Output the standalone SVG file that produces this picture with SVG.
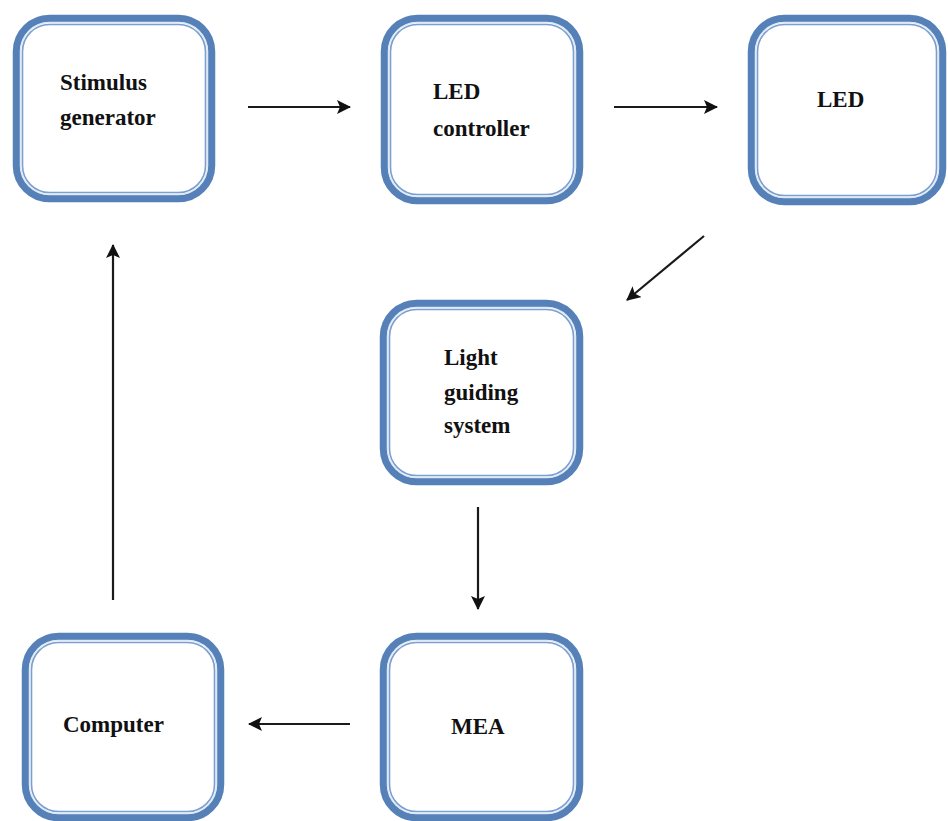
<svg xmlns="http://www.w3.org/2000/svg" width="948" height="821" viewBox="0 0 948 821">
<style>
.band{fill:#ffffff;stroke:#5580b8;stroke-width:7.5}
.gap{fill:none;stroke:#dfe9f5;stroke-width:1.5}
.inner{fill:none;stroke:#7a9fd0;stroke-width:1.6}
.lbl{font-family:"Liberation Serif","Times New Roman",serif;font-weight:bold;font-size:23px;fill:#111111}
.conn{stroke:#1a1a1a;stroke-width:2.2;fill:none}
</style>
<defs>
<marker id="ah" viewBox="0 0 14 14" refX="13" refY="7" markerWidth="14" markerHeight="14" markerUnits="userSpaceOnUse" orient="auto">
<path d="M0,0 L14,7 L0,14 L3,7 Z" fill="#111111"/>
</marker>
</defs>
<rect width="948" height="821" fill="#ffffff"/>
<g id="connectors">
<line class="conn" x1="248" y1="107" x2="350" y2="107" marker-end="url(#ah)"/>
<line class="conn" x1="614" y1="107" x2="717" y2="107" marker-end="url(#ah)"/>
<line class="conn" x1="704" y1="236" x2="627" y2="300" marker-end="url(#ah)"/>
<line class="conn" x1="478" y1="507" x2="478" y2="609" stroke-width="1.8" marker-end="url(#ah)"/>
<line class="conn" x1="350" y1="724" x2="249" y2="724" marker-end="url(#ah)"/>
<line class="conn" x1="113" y1="600" x2="113" y2="245" marker-end="url(#ah)"/>
</g>
<g id="stimulus">
<rect class="band" x="16.5" y="18.5" width="195" height="180" rx="33"/>
<rect class="gap" x="20.5" y="22.5" width="187" height="172" rx="29"/>
<rect class="inner" x="22.5" y="24.5" width="183" height="168" rx="27"/>
<text class="lbl" x="60" y="90">Stimulus</text>
<text class="lbl" x="60" y="125">generator</text>
</g>
<g id="led-controller">
<rect class="band" x="384.5" y="18.5" width="195" height="182" rx="33"/>
<rect class="gap" x="388.5" y="22.5" width="187" height="174" rx="29"/>
<rect class="inner" x="390.5" y="24.5" width="183" height="170" rx="27"/>
<text class="lbl" x="433" y="99">LED</text>
<text class="lbl" x="433" y="136">controller</text>
</g>
<g id="led">
<rect class="band" x="751.5" y="18.5" width="191" height="183" rx="33"/>
<rect class="gap" x="755.5" y="22.5" width="183" height="175" rx="29"/>
<rect class="inner" x="757.5" y="24.5" width="179" height="171" rx="27"/>
<text class="lbl" x="817" y="107">LED</text>
</g>
<g id="light-guiding">
<rect class="band" x="383.5" y="303.5" width="196" height="178" rx="33"/>
<rect class="gap" x="387.5" y="307.5" width="188" height="170" rx="29"/>
<rect class="inner" x="389.5" y="309.5" width="184" height="166" rx="27"/>
<text class="lbl" x="444" y="365">Light</text>
<text class="lbl" x="444" y="400">guiding</text>
<text class="lbl" x="444" y="433">system</text>
</g>
<g id="computer">
<rect class="band" x="25.5" y="636.5" width="195" height="181" rx="33"/>
<rect class="gap" x="29.5" y="640.5" width="187" height="173" rx="29"/>
<rect class="inner" x="31.5" y="642.5" width="183" height="169" rx="27"/>
<text class="lbl" x="63" y="732">Computer</text>
</g>
<g id="mea">
<rect class="band" x="383.5" y="636.5" width="196" height="181" rx="33"/>
<rect class="gap" x="387.5" y="640.5" width="188" height="173" rx="29"/>
<rect class="inner" x="389.5" y="642.5" width="184" height="169" rx="27"/>
<text class="lbl" x="451" y="734">MEA</text>
</g>
</svg>
